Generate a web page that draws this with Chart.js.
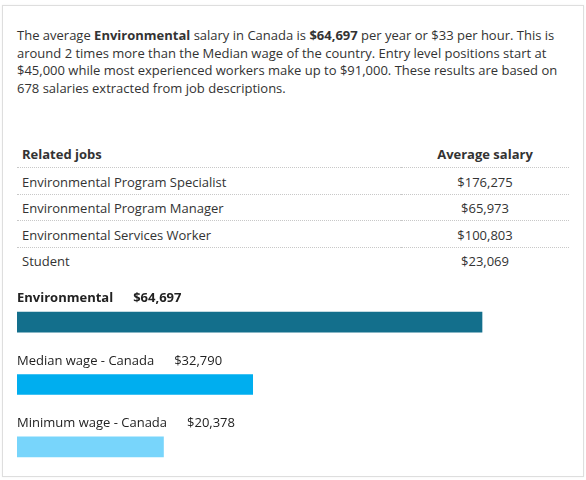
<!DOCTYPE html>
<html>
<head>
<meta charset="utf-8">
<script src="https://cdn.jsdelivr.net/npm/chart.js@4"></script>
<style>
  html, body { margin:0; padding:0; background:#fff; }
  body { width:586px; height:480px; position:relative; overflow:hidden; font-family:"Open Sans", sans-serif; color:#333; }
  .card { position:absolute; left:2px; top:5px; width:580px; height:470px; border:1px solid #dedede; box-shadow:0 0 2px rgba(0,0,0,0.06); }
  .intro { position:absolute; left:17px; top:27px; width:560px; margin:0; font-size:13px; line-height:17.6px; }
  .intro b { font-weight:700; }
  table { position:absolute; left:17px; top:141px; width:552px; border-collapse:collapse; font-size:13px; }
  td, th { padding:0; height:25.5px; border-bottom:1px dotted #c8c8c8; }
  th { font-weight:700; height:26px; }
  td { padding-top:2px; height:23.5px; }
  tr:last-child td { border-bottom:none; }
  .c1 { width:379px; padding-left:5px; text-align:left; }
  .c2 { width:168px; text-align:center; }
  #wrap { position:absolute; left:0; top:280px; width:586px; height:200px; }
</style>
</head>
<body>
<div class="card"></div>
<p class="intro">The average <b>Environmental</b> salary in Canada is <b>$64,697</b> per year or $33 per hour. This is around 2 times more than the Median wage of the country. Entry level positions start at $45,000 while most experienced workers make up to $91,000. These results are based on 678 salaries extracted from job descriptions.</p>
<table>
  <thead><tr><th class="c1">Related jobs</th><th class="c2">Average salary</th></tr></thead>
  <tbody id="jobs"></tbody>
</table>
<div id="wrap"><canvas id="bars"></canvas></div>
<script>
const jobTitles = ['Environmental Program Specialist', 'Environmental Program Manager', 'Environmental Services Worker', 'Student'];
const jobSalaries = [176275, 65973, 100803, 23069];

const barLabels = ['Environmental', 'Median wage - Canada', 'Minimum wage - Canada'];
const barValues = [64697, 32790, 20378];
const barColors = ['#136f8c', '#00aeef', '#78d5fb'];

const fmtUSD = v => '$' + new Intl.NumberFormat('en-US', {maximumFractionDigits:0}).format(v);

document.getElementById('jobs').innerHTML = jobTitles.map((t,i)=>`
  <tr><td class="c1">${t}</td><td class="c2">${fmtUSD(jobSalaries[i])}</td></tr>
`).join('');

// label + value written above each bar
const aboveLabels = {
  id:'aboveLabels',
  afterDatasetsDraw(chart){
    const ctx = chart.ctx;
    const meta = chart.getDatasetMeta(0);
    ctx.save();
    ctx.textBaseline = 'middle';
    ctx.fillStyle = '#222';
    meta.data.forEach((bar,i)=>{
      ctx.font = (i===0 ? '700 ' : '400 ') + '13px "Open Sans", sans-serif';
      const x0 = chart.chartArea.left;
      const y = bar.y - 23.5;
      ctx.fillText(barLabels[i], x0, y);
      const w = ctx.measureText(barLabels[i]).width;
      ctx.fillText(fmtUSD(barValues[i]), x0 + w + 20, y);
    });
    ctx.restore();
  }
};

new Chart(document.getElementById('bars'), {
  type:'bar',
  data:{
    labels:barLabels,
    datasets:[{data:barValues, backgroundColor:barColors, barThickness:20, borderWidth:0}]
  },
  options:{
    indexAxis:'y',
    responsive:true,
    maintainAspectRatio:false,
    animation:false,
    layout:{padding:{left:17, right:17, top:11, bottom:2}},
    plugins:{legend:{display:false}, tooltip:{enabled:false}},
    scales:{
      x:{display:false, min:0, max:76800},
      y:{display:false}
    }
  },
  plugins:[aboveLabels]
});
</script>
</body>
</html>
